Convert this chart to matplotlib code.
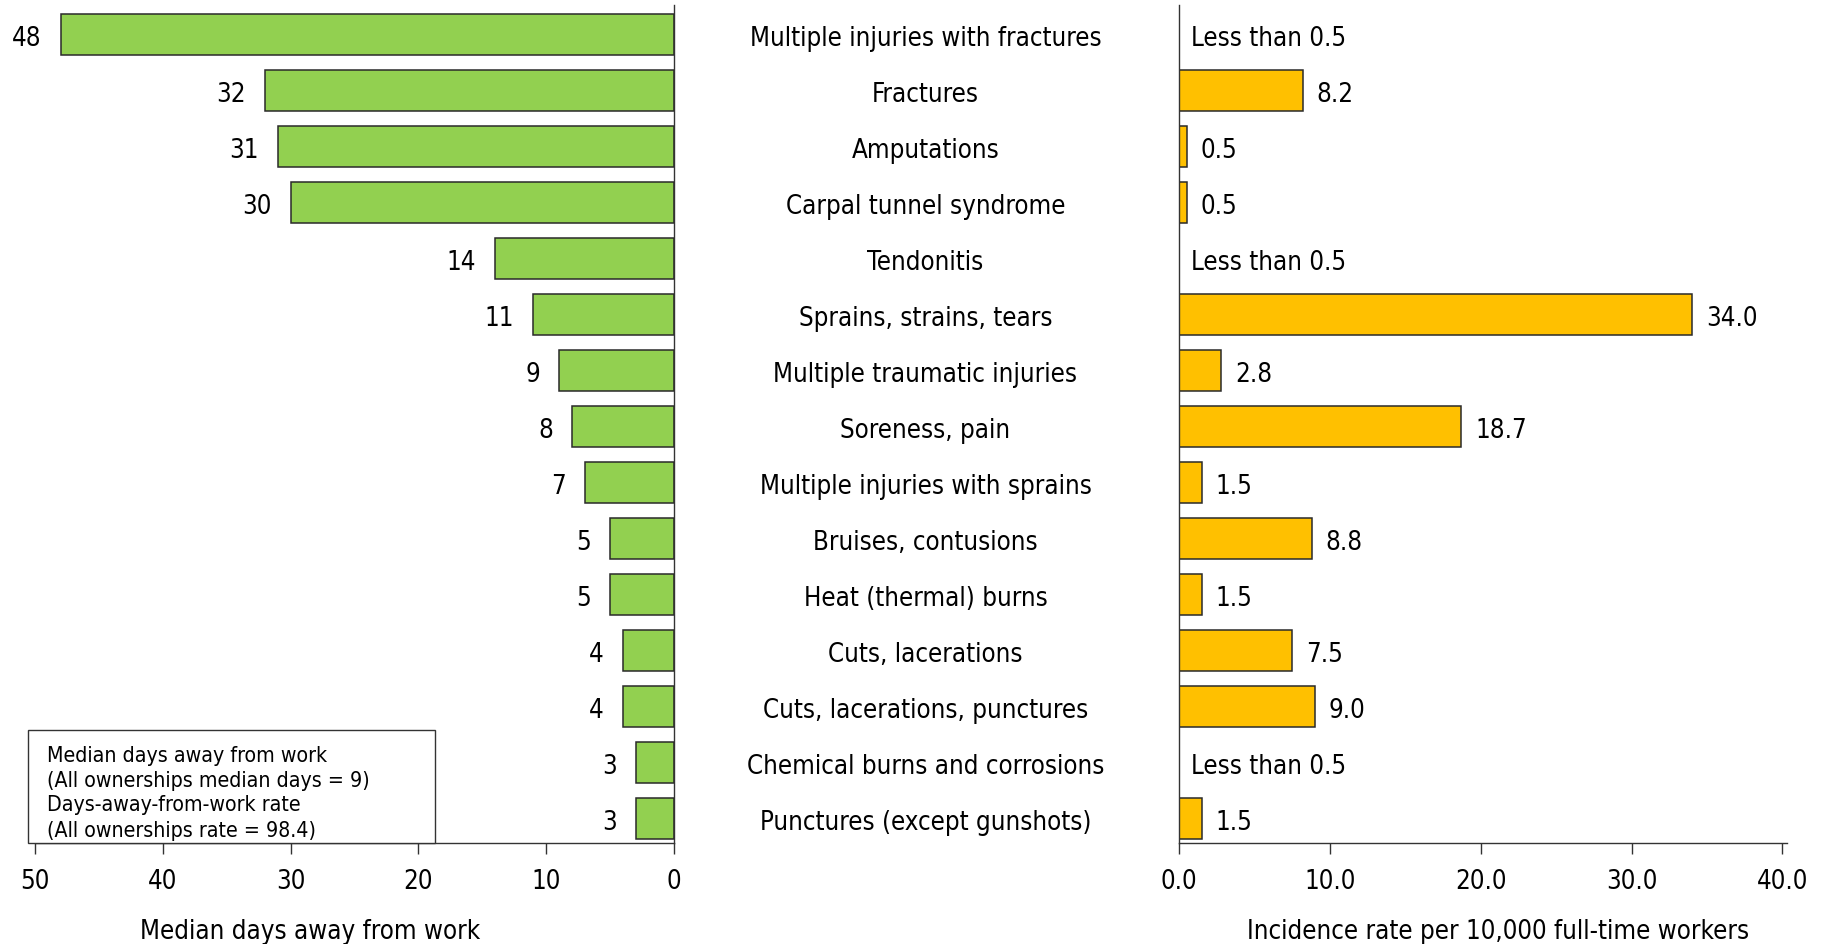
import numpy as np
import matplotlib
matplotlib.use("Agg")
import matplotlib.pyplot as plt
from matplotlib.patches import Rectangle

categories = ["Multiple injuries with fractures", "Fractures", "Amputations",
              "Carpal tunnel syndrome", "Tendonitis", "Sprains, strains, tears",
              "Multiple traumatic injuries", "Soreness, pain",
              "Multiple injuries with sprains", "Bruises, contusions",
              "Heat (thermal) burns", "Cuts, lacerations",
              "Cuts, lacerations, punctures", "Chemical burns and corrosions",
              "Punctures (except gunshots)"]
median_days = [48, 32, 31, 30, 14, 11, 9, 8, 7, 5, 5, 4, 4, 3, 3]
rates = [np.nan, 8.2, 0.5, 0.5, np.nan, 34.0, 2.8, 18.7, 1.5, 8.8, 1.5, 7.5, 9.0, np.nan, 1.5]
left_ticks = [50, 40, 30, 20, 10, 0]
right_ticks = [0, 10, 20, 30, 40]
legend_lines = ["Median days away from work", "(All ownerships median days = 9)",
                "Days-away-from-work rate", "(All ownerships rate = 98.4)"]

FONT = dict(family="DejaVu Sans", stretch="condensed")
FS = 18.5
GREEN = "#92D050"
ORANGE = "#FFC000"
EDGE = "#2a2a2a"
DY = -3  # small downward text shift in pixels

W, H = 1833, 945
fig = plt.figure(figsize=(W / 100, H / 100), dpi=100)

def ax_rect(x0, x1, y0, y1):
    return [x0 / W, 1 - y1 / H, (x1 - x0) / W, (y1 - y0) / H]

y = np.arange(len(categories))
ylim = (14.43, -0.53)

axL = fig.add_axes(ax_rect(35, 674, 6, 844))
axL.barh(y, median_days, height=0.73, color=GREEN, edgecolor=EDGE, linewidth=1.1)
axL.set_xlim(50, 0)
axL.set_ylim(*ylim)
for s in ["top", "left"]:
    axL.spines[s].set_visible(False)
axL.set_yticks([])
axL.set_xticks(left_ticks)
axL.set_xticklabels([str(t) for t in left_ticks], fontsize=FS, **FONT)
for i, v in enumerate(median_days):
    axL.annotate(str(v), (v, i), xytext=(-19, DY), textcoords="offset pixels",
                 ha="right", va="center", fontsize=FS, clip_on=False, **FONT)

axR = fig.add_axes(ax_rect(1179, 1787, 6, 844))
axR.barh(y, rates, height=0.73, color=ORANGE, edgecolor=EDGE, linewidth=1.1)
axR.set_xlim(0, 40.3)
axR.set_ylim(*ylim)
for s in ["top", "right"]:
    axR.spines[s].set_visible(False)
axR.set_yticks([])
axR.set_xticks(right_ticks)
axR.set_xticklabels([f"{t:.1f}" for t in right_ticks], fontsize=FS, **FONT)
for i, v in enumerate(rates):
    if np.isnan(v):
        axR.annotate("Less than 0.5", (0, i), xytext=(12, DY), textcoords="offset pixels",
                     ha="left", va="center", fontsize=FS, **FONT)
    else:
        axR.annotate(f"{v:.1f}", (v, i), xytext=(14, DY), textcoords="offset pixels",
                     ha="left", va="center", fontsize=FS, **FONT)

for ax in (axL, axR):
    for s in ax.spines.values():
        s.set_color("#333333")
        s.set_linewidth(1.0)
    ax.tick_params(axis="x", direction="out", length=8, width=1, color="#333333", pad=10)

# category labels centered between panels
for i, c in enumerate(categories):
    xc = 925.5 / W
    yd = axL.transData.transform((0, i))[1] + DY
    yf = fig.transFigure.inverted().transform((0, yd))[1]
    fig.text(xc, yf, c, ha="center", va="center", fontsize=FS, **FONT)

# axis titles
fig.text(310 / W, 1 - 932 / H, "Median days away from work", ha="center", va="center",
         fontsize=FS, **FONT)
fig.text(1498 / W, 1 - 932 / H, "Incidence rate per 10,000 full-time workers",
         ha="center", va="center", fontsize=FS, **FONT)

# legend-like box
fig.patches.append(Rectangle((28 / W, 1 - 844 / H), (435 - 28) / W, (844 - 731) / H,
                             transform=fig.transFigure, facecolor="white",
                             edgecolor="#333333", linewidth=1.0, zorder=5))
for k, line in enumerate(legend_lines):
    yy = [756, 781, 805, 831][k]
    fig.text(47 / W, 1 - yy / H, line, ha="left", va="center", fontsize=15.3,
             zorder=6, **FONT)

fig.savefig("out.png", dpi=100)
